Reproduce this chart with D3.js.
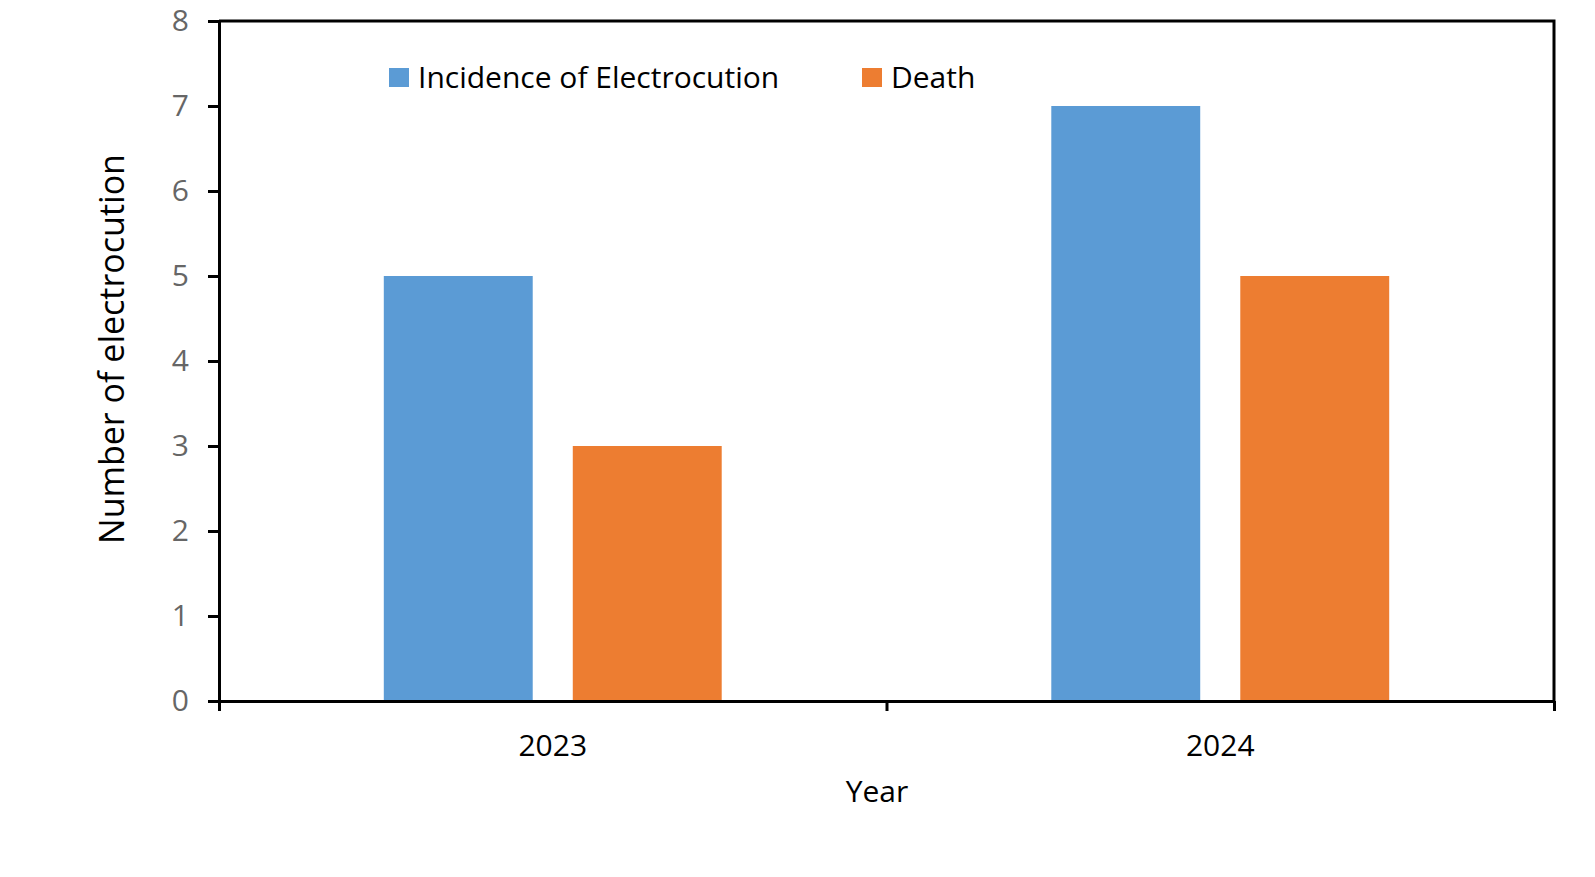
<!DOCTYPE html>
<html>
<head>
<meta charset="utf-8">
<script src="https://cdn.jsdelivr.net/npm/d3@7"></script>
<style>
  body { margin: 0; background: #fff; }
  svg { display: block; font-family: "Open Sans", sans-serif; }
</style>
</head>
<body>
<div id="chart"></div>
<script>
const years = ['2023', '2024']
const seriesNames = ['Incidence of Electrocution', 'Death']
const incidence = [5, 7]
const deaths = [3, 5]
const yTicks = [0, 1, 2, 3, 4, 5, 6, 7, 8]
const colors = ['#5B9BD5', '#ED7D31']

const width = 1595
const height = 877
const plotLeft = 219, plotRight = 1554, plotTop = 21, plotBottom = 701

const rows = years.map((y, i) => ({ year: y, values: [incidence[i], deaths[i]] }))

const svg = d3.select('#chart')
  .append('svg')
  .attr('width', width)
  .attr('height', height)

const x0 = d3.scaleBand()
  .domain(years)
  .range([plotLeft, plotRight])

const x1 = d3.scaleBand()
  .domain(seriesNames)
  .range([0, x0.bandwidth()])
  .paddingInner(0.212)
  .paddingOuter(0.872)

const y = d3.scaleLinear()
  .domain([0, 8])
  .range([plotBottom, plotTop])

// bars
svg.append('g')
  .selectAll('g')
  .data(rows)
  .join('g')
  .attr('transform', d => `translate(${x0(d.year)},0)`)
  .selectAll('rect')
  .data(d => d.values.map((v, i) => ({ name: seriesNames[i], value: v, i })))
  .join('rect')
  .attr('x', d => x1(d.name))
  .attr('width', x1.bandwidth())
  .attr('y', d => y(d.value))
  .attr('height', d => y(0) - y(d.value))
  .attr('fill', d => colors[d.i])

// frame top + right
svg.append('path')
  .attr('d', `M${plotLeft},${plotTop}H${plotRight}V${plotBottom}`)
  .attr('fill', 'none')
  .attr('stroke', '#000')
  .attr('stroke-width', 3)

// y axis
const axisY = d3.axisLeft(y)
  .tickValues(yTicks)
  .tickSize(11)
  .tickSizeOuter(0)
  .tickPadding(19)

const gy = svg.append('g')
  .attr('transform', `translate(${plotLeft},0)`)
  .call(axisY)
gy.select('.domain').attr('stroke', '#000').attr('stroke-width', 3)
gy.selectAll('.tick line').attr('stroke', '#000').attr('stroke-width', 3)
gy.selectAll('.tick text')
  .attr('fill', '#666')
  .style('font-size', '30px')
  .style('font-family', '"Open Sans", sans-serif')

// x axis: tick marks on category boundaries
const xEdge = d3.scaleLinear().domain([0, years.length]).range([plotLeft, plotRight])
const gx = svg.append('g')
  .attr('transform', `translate(0,${plotBottom})`)
  .call(d3.axisBottom(xEdge).tickValues(d3.range(years.length + 1)).tickSize(10).tickSizeOuter(0).tickFormat(''))
gx.select('.domain').attr('stroke', '#000').attr('stroke-width', 3)
gx.selectAll('.tick line').attr('stroke', '#000').attr('stroke-width', 3)

// x labels
const gxl = svg.append('g')
  .attr('transform', `translate(0,${plotBottom})`)
  .call(d3.axisBottom(x0).tickSize(0).tickPadding(34))
gxl.select('.domain').remove()
gxl.selectAll('.tick text')
  .attr('fill', '#000')
  .style('font-size', '30px')
  .style('font-family', '"Open Sans", sans-serif')

// axis titles
svg.append('text')
  .attr('x', 877)
  .attr('y', 802)
  .attr('text-anchor', 'middle')
  .style('font-size', '30px')
  .attr('fill', '#000')
  .text('Year')

svg.append('text')
  .attr('transform', `translate(124,349) rotate(-90)`)
  .attr('text-anchor', 'middle')
  .style('font-size', '34px')
  .attr('fill', '#000')
  .text('Number of electrocution')

// legend
const legendPos = [389, 862]
const legend = svg.append('g')
  .selectAll('g')
  .data(seriesNames)
  .join('g')
  .attr('transform', (d, i) => `translate(${legendPos[i]},68)`)
legend.append('rect')
  .attr('width', 20)
  .attr('height', 19)
  .attr('fill', (d, i) => colors[i])
legend.append('text')
  .attr('x', 29)
  .attr('y', 20)
  .style('font-size', '30px')
  .attr('fill', '#000')
  .text(d => d)
</script>
</body>
</html>
